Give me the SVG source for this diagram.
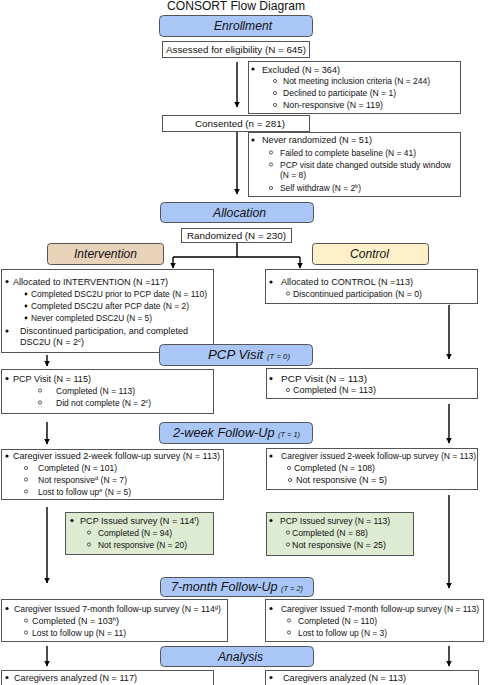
<svg xmlns="http://www.w3.org/2000/svg" width="495" height="685" viewBox="0 0 495 685">
<style>
text{font-family:"Liberation Sans",Arial,Helvetica,sans-serif;font-size:9px;fill:#111}
.title{font-size:12px}
.big{font-size:9.8px}
.h{font-size:12px;font-style:italic}
.sm{font-size:7px}
.sup{font-size:6px}
.box{fill:#fff;stroke:#555;stroke-width:1}
.hdr{fill:#a9c6f7;stroke:#555;stroke-width:1}
.int{fill:#e8d2ba;stroke:#555;stroke-width:1}
.ctl{fill:#fdf0c9;stroke:#555;stroke-width:1}
.grn{fill:#ddebd3;stroke:#555;stroke-width:1}
.b{fill:#111}
.o{fill:none;stroke:#333;stroke-width:0.8}
.c{stroke:#000;stroke-width:1.4;fill:none}
</style>
<defs>
<marker id="ah" markerWidth="7" markerHeight="7" refX="5.5" refY="3" orient="auto" markerUnits="userSpaceOnUse">
<path d="M0,0 L6,3 L0,6 z" fill="#000"/>
</marker>
</defs>

<text class="title" x="167" y="9.5" textLength="138" lengthAdjust="spacingAndGlyphs">CONSORT Flow Diagram</text>

<g id="connectors">
<path class="c" d="M237,62 V107" marker-end="url(#ah)"/>
<path class="c" d="M237,132 V194" marker-end="url(#ah)"/>
<path class="c" d="M237,242 V257 M173,257 H300"/>
<path class="c" d="M173,257 V268" marker-end="url(#ah)"/>
<path class="c" d="M300,257 V268" marker-end="url(#ah)"/>
<path class="c" d="M47,355 V366" marker-end="url(#ah)"/>
<path class="c" d="M449,305 V359" marker-end="url(#ah)"/>
<path class="c" d="M47,422 V444" marker-end="url(#ah)"/>
<path class="c" d="M449,404 V443" marker-end="url(#ah)"/>
<path class="c" d="M47,507 V583" marker-end="url(#ah)"/>
<path class="c" d="M449,495 V588" marker-end="url(#ah)"/>
<path class="c" d="M47,646 V666" marker-end="url(#ah)"/>
<path class="c" d="M449,646 V666" marker-end="url(#ah)"/>
</g>

<g id="enrollment">
<rect class="hdr" x="159.5" y="15.5" width="153" height="21" rx="4"/>
<text class="h" x="214" y="30" textLength="58" lengthAdjust="spacingAndGlyphs">Enrollment</text>
</g>

<g id="assessed">
<rect class="box" x="162.5" y="41.5" width="147" height="16"/>
<text class="big" x="166" y="52.5" textLength="140" lengthAdjust="spacingAndGlyphs">Assessed for eligibility (N = 645)</text>
</g>

<g id="excluded">
<rect class="box" x="248.5" y="61.5" width="212" height="52"/>
<circle class="b" cx="253" cy="69" r="1.6"/>
<text x="262" y="72.5" textLength="78" lengthAdjust="spacingAndGlyphs">Excluded (N = 364)</text>
<circle class="o" cx="275" cy="81" r="1.6"/>
<text x="283" y="84" textLength="147" lengthAdjust="spacingAndGlyphs">Not meeting inclusion criteria (N = 244)</text>
<circle class="o" cx="275" cy="93" r="1.6"/>
<text x="283" y="96" textLength="113" lengthAdjust="spacingAndGlyphs">Declined to participate (N = 1)</text>
<circle class="o" cx="275" cy="105" r="1.6"/>
<text x="283" y="108" textLength="100" lengthAdjust="spacingAndGlyphs">Non-responsive (N = 119)</text>
</g>

<g id="consented">
<rect class="box" x="162.5" y="115.5" width="147" height="16"/>
<text class="big" x="195" y="126.5" textLength="90" lengthAdjust="spacingAndGlyphs">Consented (n = 281)</text>
</g>

<g id="never-randomized">
<rect class="box" x="248.5" y="132.5" width="212" height="64"/>
<circle class="b" cx="253" cy="140" r="1.6"/>
<text x="262" y="143" textLength="110" lengthAdjust="spacingAndGlyphs">Never randomized (N = 51)</text>
<circle class="o" cx="271" cy="152.5" r="1.6"/>
<text x="280" y="155.5" textLength="136" lengthAdjust="spacingAndGlyphs">Failed to complete baseline (N = 41)</text>
<circle class="o" cx="271" cy="164.5" r="1.6"/>
<text x="280" y="167.5" textLength="171" lengthAdjust="spacingAndGlyphs">PCP visit date changed outside study window</text>
<text x="280" y="178" textLength="26" lengthAdjust="spacingAndGlyphs">(N = 8)</text>
<circle class="o" cx="271" cy="188" r="1.6"/>
<text x="280" y="191" textLength="81" lengthAdjust="spacingAndGlyphs">Self withdraw (N = 2<tspan class="sup" dy="-3">b</tspan><tspan dy="3">)</tspan></text>
</g>

<g id="allocation">
<rect class="hdr" x="160.5" y="202.5" width="153" height="20" rx="4"/>
<text class="h" x="213" y="216.5" textLength="53" lengthAdjust="spacingAndGlyphs">Allocation</text>
</g>

<g id="randomized">
<rect class="box" x="181.5" y="228.5" width="110" height="14"/>
<text class="big" x="187" y="238.5" textLength="99" lengthAdjust="spacingAndGlyphs">Randomized (N = 230)</text>
</g>

<g id="intervention">
<rect class="int" x="47.5" y="243.5" width="116" height="21" rx="3"/>
<text class="h" x="74" y="257.5" textLength="63" lengthAdjust="spacingAndGlyphs">Intervention</text>
</g>

<g id="control">
<rect class="ctl" x="312.5" y="243.5" width="116" height="21" rx="3"/>
<text class="h" x="350" y="257.5" textLength="39" lengthAdjust="spacingAndGlyphs">Control</text>
</g>

<g id="int-allocated">
<rect class="box" x="1.5" y="269.5" width="212" height="83"/>
<circle class="b" cx="7" cy="281.5" r="1.6"/>
<text x="13" y="284.5" textLength="155" lengthAdjust="spacingAndGlyphs">Allocated to INTERVENTION (N =117)</text>
<circle class="b" cx="26" cy="294" r="1.4"/>
<text x="31" y="297" textLength="176" lengthAdjust="spacingAndGlyphs">Completed DSC2U prior to PCP date (N = 110)</text>
<circle class="b" cx="26" cy="306" r="1.4"/>
<text x="31" y="309" textLength="158" lengthAdjust="spacingAndGlyphs">Completed DSC2U after PCP date (N = 2)</text>
<circle class="b" cx="26" cy="318" r="1.4"/>
<text x="31" y="321" textLength="121" lengthAdjust="spacingAndGlyphs">Never completed DSC2U (N = 5)</text>
<circle class="b" cx="7" cy="331" r="1.6"/>
<text x="20" y="334" textLength="168" lengthAdjust="spacingAndGlyphs">Discontinued participation, and completed</text>
<text x="20" y="345" textLength="64" lengthAdjust="spacingAndGlyphs">DSC2U (N = 2<tspan class="sup" dy="-3">c</tspan><tspan dy="3">)</tspan></text>
</g>

<g id="ctl-allocated">
<rect class="box" x="265.5" y="269.5" width="212" height="34"/>
<circle class="b" cx="271" cy="282" r="1.6"/>
<text x="281" y="285" textLength="132" lengthAdjust="spacingAndGlyphs">Allocated to CONTROL (N =113)</text>
<circle class="o" cx="288" cy="293.5" r="1.6"/>
<text x="293" y="296.5" textLength="129" lengthAdjust="spacingAndGlyphs">Discontinued participation (N = 0)</text>
</g>

<g id="pcp-visit">
<rect class="hdr" x="159.5" y="344.5" width="153" height="21" rx="4"/>
<text class="h" x="208" y="358.5" textLength="82" lengthAdjust="spacingAndGlyphs">PCP Visit <tspan class="sm">(T = 0)</tspan></text>
</g>

<g id="int-pcp">
<rect class="box" x="1.5" y="369.5" width="212" height="44"/>
<circle class="b" cx="7" cy="378.5" r="1.6"/>
<text x="13" y="381.5" textLength="78" lengthAdjust="spacingAndGlyphs">PCP Visit (N = 115)</text>
<circle class="o" cx="40" cy="390.5" r="1.6"/>
<text x="56" y="393.5" textLength="79" lengthAdjust="spacingAndGlyphs">Completed (N = 113)</text>
<circle class="o" cx="40" cy="402.5" r="1.6"/>
<text x="56" y="405.5" textLength="95" lengthAdjust="spacingAndGlyphs">Did not complete (N = 2<tspan class="sup" dy="-3">c</tspan><tspan dy="3">)</tspan></text>
</g>

<g id="ctl-pcp">
<rect class="box" x="266.5" y="368.5" width="211" height="30"/>
<circle class="b" cx="271" cy="378.5" r="1.6"/>
<text x="281" y="381.5" textLength="86" lengthAdjust="spacingAndGlyphs">PCP Visit (N = 113)</text>
<circle class="o" cx="288" cy="390" r="1.6"/>
<text x="293" y="393" textLength="83" lengthAdjust="spacingAndGlyphs">Completed (N = 113)</text>
</g>

<g id="two-week">
<rect class="hdr" x="159.5" y="422.5" width="153" height="21" rx="4"/>
<text class="h" x="173" y="436.5" textLength="127" lengthAdjust="spacingAndGlyphs">2-week Follow-Up <tspan class="sm">(T = 1)</tspan></text>
</g>

<g id="int-2week">
<rect class="box" x="1.5" y="449.5" width="222" height="50"/>
<circle class="b" cx="7" cy="456" r="1.6"/>
<text x="13" y="459" textLength="207" lengthAdjust="spacingAndGlyphs">Caregiver issued 2-week follow-up survey (N = 113)</text>
<circle class="o" cx="26" cy="468" r="1.6"/>
<text x="38" y="471" textLength="79" lengthAdjust="spacingAndGlyphs">Completed (N = 101)</text>
<circle class="o" cx="26" cy="479.5" r="1.6"/>
<text x="38" y="482.5" textLength="89" lengthAdjust="spacingAndGlyphs">Not responsive<tspan class="sup" dy="-3">d</tspan><tspan dy="3"> (N = 7)</tspan></text>
<circle class="o" cx="26" cy="491.5" r="1.6"/>
<text x="38" y="494.5" textLength="93" lengthAdjust="spacingAndGlyphs">Lost to follow up<tspan class="sup" dy="-3">e</tspan><tspan dy="3"> (N = 5)</tspan></text>
</g>

<g id="ctl-2week">
<rect class="box" x="266.5" y="448.5" width="211" height="41"/>
<circle class="b" cx="271" cy="456" r="1.6"/>
<text x="281" y="459" textLength="195" lengthAdjust="spacingAndGlyphs">Caregiver issued 2-week follow-up survey (N = 113)</text>
<circle class="o" cx="289" cy="468" r="1.6"/>
<text x="294" y="471" textLength="81" lengthAdjust="spacingAndGlyphs">Completed (N = 108)</text>
<circle class="o" cx="290" cy="480" r="1.6"/>
<text x="296" y="483" textLength="91" lengthAdjust="spacingAndGlyphs">Not responsive (N = 5)</text>
</g>

<g id="int-pcp-survey">
<rect class="grn" x="65.5" y="512.5" width="148" height="42"/>
<circle class="b" cx="72" cy="520.5" r="1.6"/>
<text x="80" y="523.5" textLength="119" lengthAdjust="spacingAndGlyphs">PCP Issued survey (N = 114<tspan class="sup" dy="-3">f</tspan><tspan dy="3">)</tspan></text>
<circle class="o" cx="89" cy="532.5" r="1.6"/>
<text x="98" y="535.5" textLength="74" lengthAdjust="spacingAndGlyphs">Completed (N = 94)</text>
<circle class="o" cx="89" cy="544.5" r="1.6"/>
<text x="98" y="547.5" textLength="89" lengthAdjust="spacingAndGlyphs">Not responsive (N = 20)</text>
</g>

<g id="ctl-pcp-survey">
<rect class="grn" x="266.5" y="512.5" width="147" height="43"/>
<circle class="b" cx="271" cy="520.5" r="1.6"/>
<text x="280" y="523.5" textLength="110" lengthAdjust="spacingAndGlyphs">PCP Issued survey (N = 113)</text>
<circle class="o" cx="288" cy="532.5" r="1.6"/>
<text x="292" y="535.5" textLength="76" lengthAdjust="spacingAndGlyphs">Completed (N = 88)</text>
<circle class="o" cx="288" cy="544.5" r="1.6"/>
<text x="292" y="547.5" textLength="94" lengthAdjust="spacingAndGlyphs">Not responsive (N = 25)</text>
</g>

<g id="seven-month">
<rect class="hdr" x="160.5" y="577.5" width="153" height="19" rx="4"/>
<text class="h" x="171" y="590.5" textLength="132" lengthAdjust="spacingAndGlyphs">7-month Follow-Up <tspan class="sm">(T = 2)</tspan></text>
</g>

<g id="int-7month">
<rect class="box" x="1.5" y="599.5" width="226" height="42"/>
<circle class="b" cx="7" cy="608.5" r="1.6"/>
<text x="14" y="611.5" textLength="207" lengthAdjust="spacingAndGlyphs">Caregiver Issued 7-month follow-up survey (N = 114<tspan class="sup" dy="-3">g</tspan><tspan dy="3">)</tspan></text>
<circle class="o" cx="26" cy="620.5" r="1.6"/>
<text x="32" y="623.5" textLength="87" lengthAdjust="spacingAndGlyphs">Completed (N = 103<tspan class="sup" dy="-3">h</tspan><tspan dy="3">)</tspan></text>
<circle class="o" cx="26" cy="632.5" r="1.6"/>
<text x="32" y="635.5" textLength="94" lengthAdjust="spacingAndGlyphs">Lost to follow up (N = 11)</text>
</g>

<g id="ctl-7month">
<rect class="box" x="265.5" y="599.5" width="218" height="42"/>
<circle class="b" cx="271" cy="608.5" r="1.6"/>
<text x="281" y="611.5" textLength="198" lengthAdjust="spacingAndGlyphs">Caregiver Issued 7-month follow-up survey (N = 113)</text>
<circle class="o" cx="289" cy="620.5" r="1.6"/>
<text x="298" y="623.5" textLength="79" lengthAdjust="spacingAndGlyphs">Completed (N = 110)</text>
<circle class="o" cx="289" cy="632.5" r="1.6"/>
<text x="298" y="635.5" textLength="89" lengthAdjust="spacingAndGlyphs">Lost to follow up (N = 3)</text>
</g>

<g id="analysis">
<rect class="hdr" x="160.5" y="646.5" width="153" height="20" rx="4"/>
<text class="h" x="218" y="661" textLength="45" lengthAdjust="spacingAndGlyphs">Analysis</text>
</g>

<g id="int-analyzed">
<rect class="box" x="1.5" y="670.5" width="212" height="20"/>
<circle class="b" cx="7" cy="677.5" r="1.6"/>
<text x="14" y="680.5" textLength="123" lengthAdjust="spacingAndGlyphs">Caregivers analyzed (N = 117)</text>
</g>

<g id="ctl-analyzed">
<rect class="box" x="265.5" y="670.5" width="213" height="20"/>
<circle class="b" cx="271" cy="677.5" r="1.6"/>
<text x="283" y="680.5" textLength="123" lengthAdjust="spacingAndGlyphs">Caregivers analyzed (N = 113)</text>
</g>
</svg>
